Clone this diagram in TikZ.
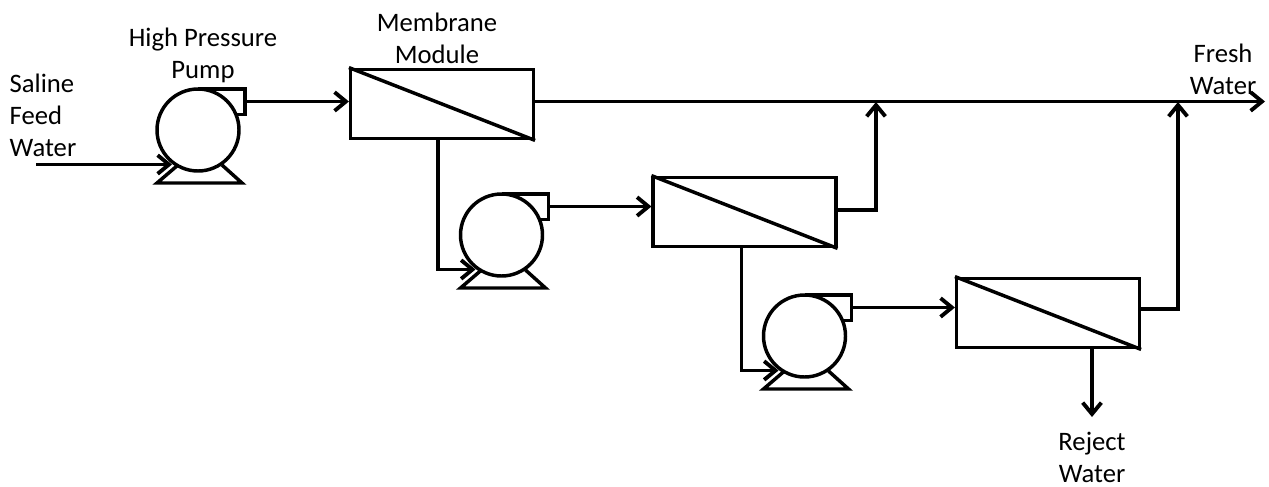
\documentclass[tikz,border=0pt]{standalone}
\usepackage{fontspec}
\setmainfont{Carlito}
\usetikzlibrary{positioning,calc,arrows.meta}

\begin{document}
\begin{tikzpicture}[x=0.75pt,y=0.75pt,line width=2.6pt,line join=miter,
	pump/.style={draw,circle,inner sep=0pt,minimum size=61.5pt},
	module/.style={draw,rectangle,inner sep=0pt,minimum width=137pt,minimum height=52pt},
	flow/.style={line width=2.9pt,-{Straight Barb[length=8.5pt,width=14pt,line width=2.9pt]}},
	label/.style={align=center,font=\fontsize{20}{24}\selectfont,inner sep=0pt}]
	\useasboundingbox (0,0) rectangle (1269,-486);
	% pumps
	\node [pump] (pump1) at (198,-130) {};
	\node [pump] (pump2) at (501.5,-235) {};
	\node [pump] (pump3) at (804.5,-336) {};
	\foreach \n in {1,2,3} {
		\coordinate (out\n) at ($(pump\n)+(47,28.5)$);
		\coordinate (in\n) at ($(pump\n)+(-26,-34.5)$);
		\draw ($(pump\n)+(0,41)$) -- ($(pump\n)+(47,41)$) -- ($(pump\n)+(47,15.5)$) -- ($(pump\n)+(39,15.5)$);
		\draw ($(pump\n)+(-20,-35)$) -- ($(pump\n)+(-41,-53)$) -- ($(pump\n)+(44,-53)$) -- ($(pump\n)+(24,-35)$);
	}
	% membrane modules
	\node [module] (mod1) at (442,-104) {};
	\node [module] (mod2) at (744.5,-212) {};
	\node [module] (mod3) at (1048,-313) {};
	\foreach \n in {1,2,3}
		\draw (mod\n.north west) -- (mod\n.south east);
	% free ends and junctions
	\coordinate (feed) at (36,-164.5);
	\coordinate (fresh) at (1265,-101.5);
	\coordinate (reject) at (1092,-417);
	\coordinate (join1) at (876,-102);
	\coordinate (join2) at (1178,-102);
	\coordinate (tap1) at (438,-200);
	\coordinate (tap2) at (741.5,-300);
	\coordinate (stub2) at (850,-210);
	\coordinate (stub3) at (1150,-309);
	% connectors
	\draw [flow] (feed) -- (in1);
	\draw [flow] (out1) -- (out1 -| mod1.west);
	\draw [flow] (out2) -- (out2 -| mod2.west);
	\draw [flow] (out3) -- (out3 -| mod3.west);
	\draw [flow] (fresh -| mod1.east) -- (fresh);
	\draw [flow] (tap1 |- mod1.south) |- (in2);
	\draw [flow] (tap2 |- mod2.south) |- (in3);
	\draw [flow] (stub2 -| mod2.east) -| (join1);
	\draw [flow] (stub3 -| mod3.east) -| (join2);
	\draw [flow] (reject |- mod3.south) -- (reject);
	% labels
	\node [label,align=left,anchor=west] (feedlabel) at (8,-115) {Saline\\Feed\\Water};
	\node [label] (pumplabel) at (203,-55) {High Pressure\\Pump};
	\node [label] (modlabel) at (437,-38) {Membrane\\Module};
	\node [label] (freshlabel) at (1223,-69) {Fresh\\Water};
	\node [label] (rejectlabel) at (1092,-457) {Reject\\Water};
\end{tikzpicture}
\end{document}
